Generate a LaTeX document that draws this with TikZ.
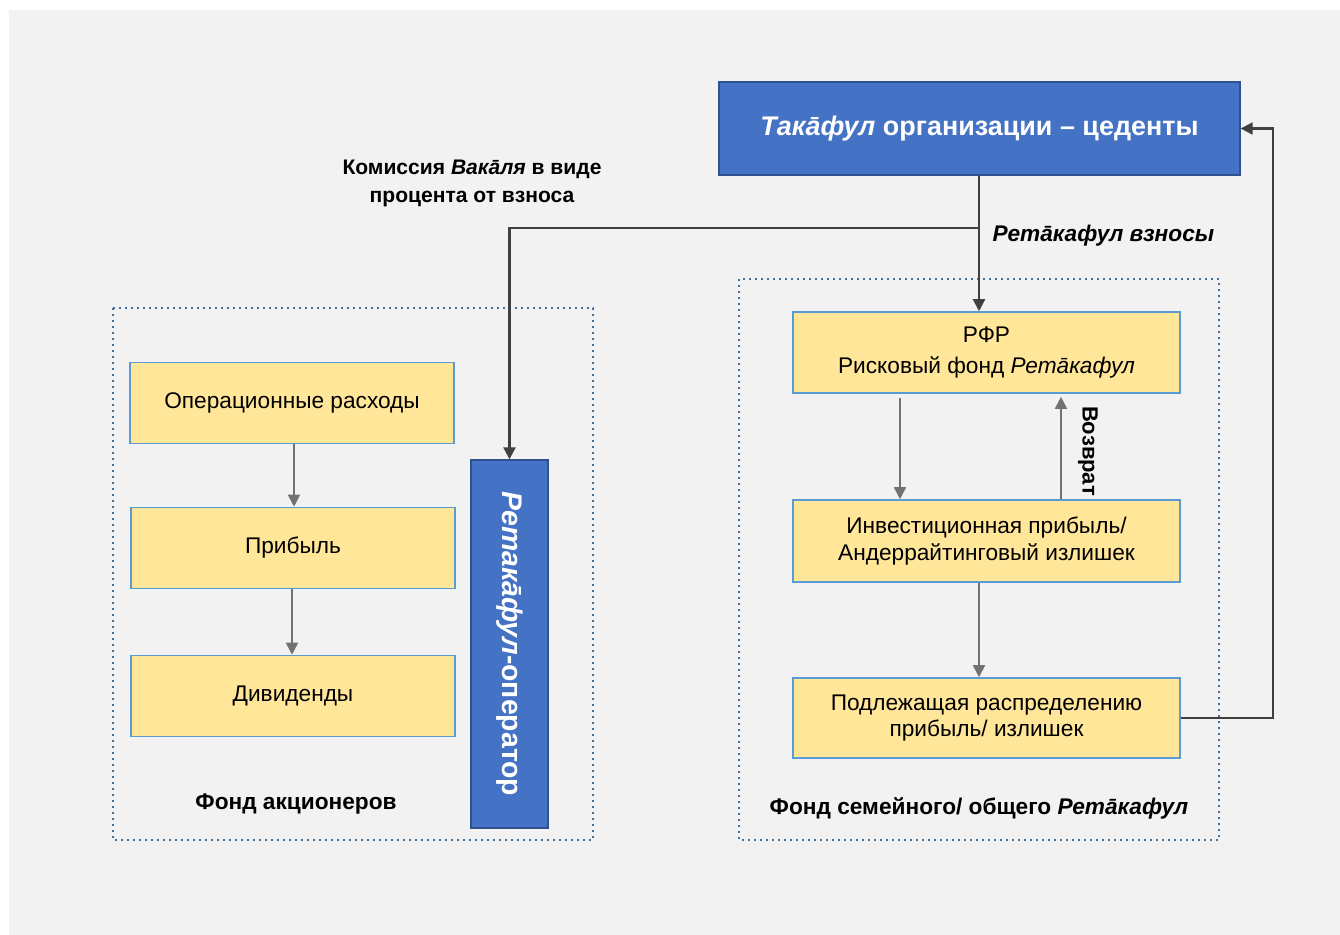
\documentclass[tikz,border=0pt]{standalone}
\usepackage{fontspec}
\setmainfont{Liberation Sans}
\usetikzlibrary{arrows.meta}
\definecolor{bg}{HTML}{F2F2F2}
\definecolor{blu}{HTML}{4472C4}
\definecolor{bluedge}{HTML}{2F528F}
\definecolor{yel}{HTML}{FFE699}
\definecolor{yeledge}{HTML}{5B9BD5}
\definecolor{dots}{HTML}{41719C}
\definecolor{garr}{HTML}{767171}
\definecolor{darr}{HTML}{404040}
\tikzset{
  ybox/.style={draw=yeledge, line width=1.2pt, fill=yel, inner sep=0pt, font=\fontsize{17}{20}\selectfont, align=center},
  bbox/.style={draw=bluedge, line width=1pt, fill=blu, inner sep=0pt, text=white, align=center},
  fund/.style={draw=dots, line width=1.5pt, dash pattern=on 1.5pt off 3pt},
  garrow/.style={draw=garr, line width=1.4pt, -{Triangle[length=9pt,width=9pt]}},
  darrow/.style={draw=darr, line width=1.6pt, -{Triangle[length=9pt,width=9pt]}},
  lbl/.style={font=\bfseries\fontsize{17}{21}\selectfont, align=center}
}
\begin{document}
\begin{tikzpicture}[x=0.75pt,y=-0.75pt]
\useasboundingbox (0,0) rectangle (1340,935);
\fill[white] (0,0) rectangle (1340,935);
\fill[bg] (9,10) rectangle (1340,935);

% fund frames
\draw[fund] (113,308) rectangle (593,840);
\draw[fund] (739,279) rectangle (1219,840);

% top box
\node[bbox, minimum width=521*0.75pt, minimum height=93*0.75pt, font=\bfseries\fontsize{20.2}{24}\selectfont] (ced) at (979.5,128.5) {\textit{Такāфул} организации – цеденты};

% left boxes
\node[ybox, minimum width=324*0.75pt, minimum height=81*0.75pt] (ops) at (292,403) {Операционные расходы};
\node[ybox, minimum width=324*0.75pt, minimum height=81*0.75pt] (prof) at (293,548) {Прибыль};
\node[ybox, minimum width=324*0.75pt, minimum height=81*0.75pt] (div) at (293,696) {Дивиденды};

% operator
\node[bbox, minimum width=77*0.75pt, minimum height=368*0.75pt] (op) at (509.5,644) {};
\node[text=white, rotate=-90, font=\bfseries\fontsize{21.3}{24}\selectfont] (optext) at (op.center) {\textit{Ретакāфул}-оператор};

% right boxes
\node[ybox, minimum width=387*0.75pt, minimum height=81*0.75pt] (rfr) at (986.5,352.5) {РФР\\[3.5pt]Рисковый фонд \textit{Ретāкафул}};
\node[ybox, minimum width=387*0.75pt, minimum height=82*0.75pt] (inv) at (986.5,541) {Инвестиционная прибыль/\\Андеррайтинговый излишек};
\node[ybox, minimum width=387*0.75pt, minimum height=80*0.75pt] (dist) at (986.5,718) {Подлежащая распределению\\прибыль/ излишек};

% labels
\node[lbl, font=\bfseries\fontsize{15.8}{21}\selectfont] (wak) at (472,183) {Комиссия \textit{Вакāля} в виде\\процента от взноса};
\node[lbl, anchor=west, font=\bfseries\itshape\fontsize{17}{20}\selectfont] (cont) at (988,236) {Ретāкафул взносы};
\node[lbl] (sh) at (296,804) {Фонд акционеров};
\node[lbl] (fam) at (979,808) {Фонд семейного/ общего \textit{Ретāкафул}};
\node[lbl, rotate=-90, font=\bfseries\fontsize{16.5}{20}\selectfont] (ret) at (1088,451) {Возврат};

% connectors
\coordinate (j) at (979,228);
\draw[darr, line width=1.6pt] (ced.south -| j) -- (j);
\draw[darrow] (j) -- (rfr.north -| j);
\draw[darrow] (j) -| (op.north);
\draw[garrow] (ops.south -| 294,0) -- (prof.north -| 294,0);
\draw[garrow] (prof.south -| 292,0) -- (div.north -| 292,0);
\draw[garrow] ([yshift=-4*0.75pt]rfr.south -| 900,0) -- (inv.north -| 900,0);
\draw[garrow] (inv.north -| 1061,0) -- ([yshift=-3*0.75pt]rfr.south -| 1061,0);
\draw[garrow] (inv.south -| 979,0) -- (dist.north -| 979,0);
\coordinate (r) at (1273,718);
\draw[darrow] (dist.east) -- (r) |- (ced.east);
\end{tikzpicture}
\end{document}
